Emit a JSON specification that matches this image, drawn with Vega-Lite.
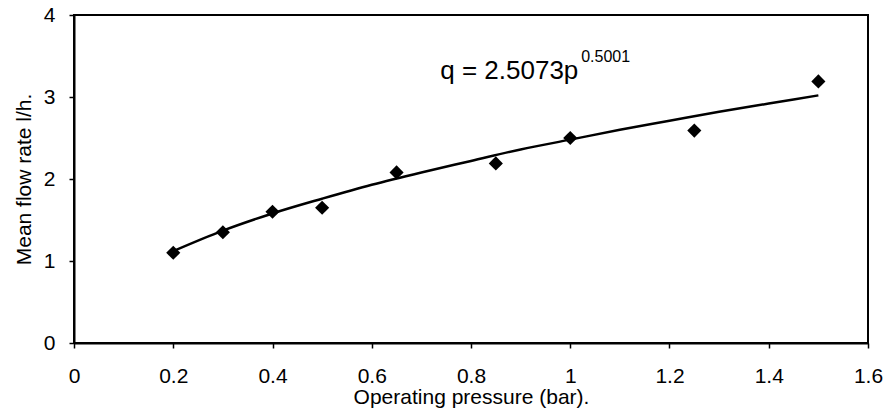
{
  "$schema": "https://vega.github.io/schema/vega-lite/v6.json",
  "autosize": {"type": "none"},
  "width": 794,
  "height": 328,
  "padding": {"left": 74, "top": 15, "right": 25, "bottom": 70},
  "background": "white",
  "config": {
    "font": "Liberation Sans",
    "view": {"stroke": "black", "strokeWidth": 2},
    "axis": {
      "grid": false,
      "domainColor": "black",
      "domainWidth": 2,
      "tickColor": "black",
      "tickWidth": 1.5,
      "tickSize": 5,
      "labelColor": "black",
      "labelFontSize": 21,
      "titleColor": "black",
      "titleFontSize": 21,
      "titleFontWeight": "normal"
    }
  },
  "datasets": {
    "obs": [
      {"p": 0.2, "q": 1.10},
      {"p": 0.3, "q": 1.35},
      {"p": 0.4, "q": 1.60},
      {"p": 0.5, "q": 1.65},
      {"p": 0.65, "q": 2.08},
      {"p": 0.85, "q": 2.19},
      {"p": 1.0, "q": 2.50},
      {"p": 1.25, "q": 2.59},
      {"p": 1.5, "q": 3.19}
    ],
    "fit": [
      {"p": 0.2, "q": 1.12},
      {"p": 0.3, "q": 1.37},
      {"p": 0.4, "q": 1.58},
      {"p": 0.5, "q": 1.76},
      {"p": 0.6, "q": 1.93},
      {"p": 0.7, "q": 2.08},
      {"p": 0.8, "q": 2.22},
      {"p": 0.9, "q": 2.36},
      {"p": 1.0, "q": 2.48},
      {"p": 1.1, "q": 2.60},
      {"p": 1.2, "q": 2.71},
      {"p": 1.3, "q": 2.82},
      {"p": 1.4, "q": 2.92},
      {"p": 1.5, "q": 3.02}
    ],
    "eq": [
      {"p": 0.738, "q": 3.22, "label": "q = 2.5073p"}
    ],
    "sup": [
      {"p": 1.022, "q": 3.43, "label": "0.5001"}
    ]
  },
  "layer": [
    {
      "data": {"name": "fit"},
      "mark": {"type": "line", "color": "black", "strokeWidth": 2.5, "interpolate": "monotone"},
      "encoding": {
        "x": {
          "field": "p", "type": "quantitative",
          "scale": {"domain": [0, 1.6], "nice": false},
          "axis": {"values": [0, 0.2, 0.4, 0.6, 0.8, 1, 1.2, 1.4, 1.6], "format": "~g", "labelPadding": 17, "title": "Operating pressure (bar).", "titlePadding": 0, "labelFlush": false}
        },
        "y": {
          "field": "q", "type": "quantitative",
          "scale": {"domain": [0, 4], "nice": false},
          "axis": {"values": [0, 1, 2, 3, 4], "format": "d", "labelPadding": 14, "title": "Mean flow rate l/h.", "titlePadding": 9}
        }
      }
    },
    {
      "data": {"name": "obs"},
      "mark": {"type": "point", "shape": "diamond", "filled": true, "color": "black", "size": 200, "opacity": 1},
      "encoding": {
        "x": {"field": "p", "type": "quantitative"},
        "y": {"field": "q", "type": "quantitative"}
      }
    },
    {
      "data": {"name": "eq"},
      "mark": {"type": "text", "align": "left", "baseline": "alphabetic", "fontSize": 26, "color": "black"},
      "encoding": {
        "x": {"field": "p", "type": "quantitative"},
        "y": {"field": "q", "type": "quantitative"},
        "text": {"field": "label"}
      }
    },
    {
      "data": {"name": "sup"},
      "mark": {"type": "text", "align": "left", "baseline": "alphabetic", "fontSize": 16, "color": "black"},
      "encoding": {
        "x": {"field": "p", "type": "quantitative"},
        "y": {"field": "q", "type": "quantitative"},
        "text": {"field": "label"}
      }
    }
  ]
}
